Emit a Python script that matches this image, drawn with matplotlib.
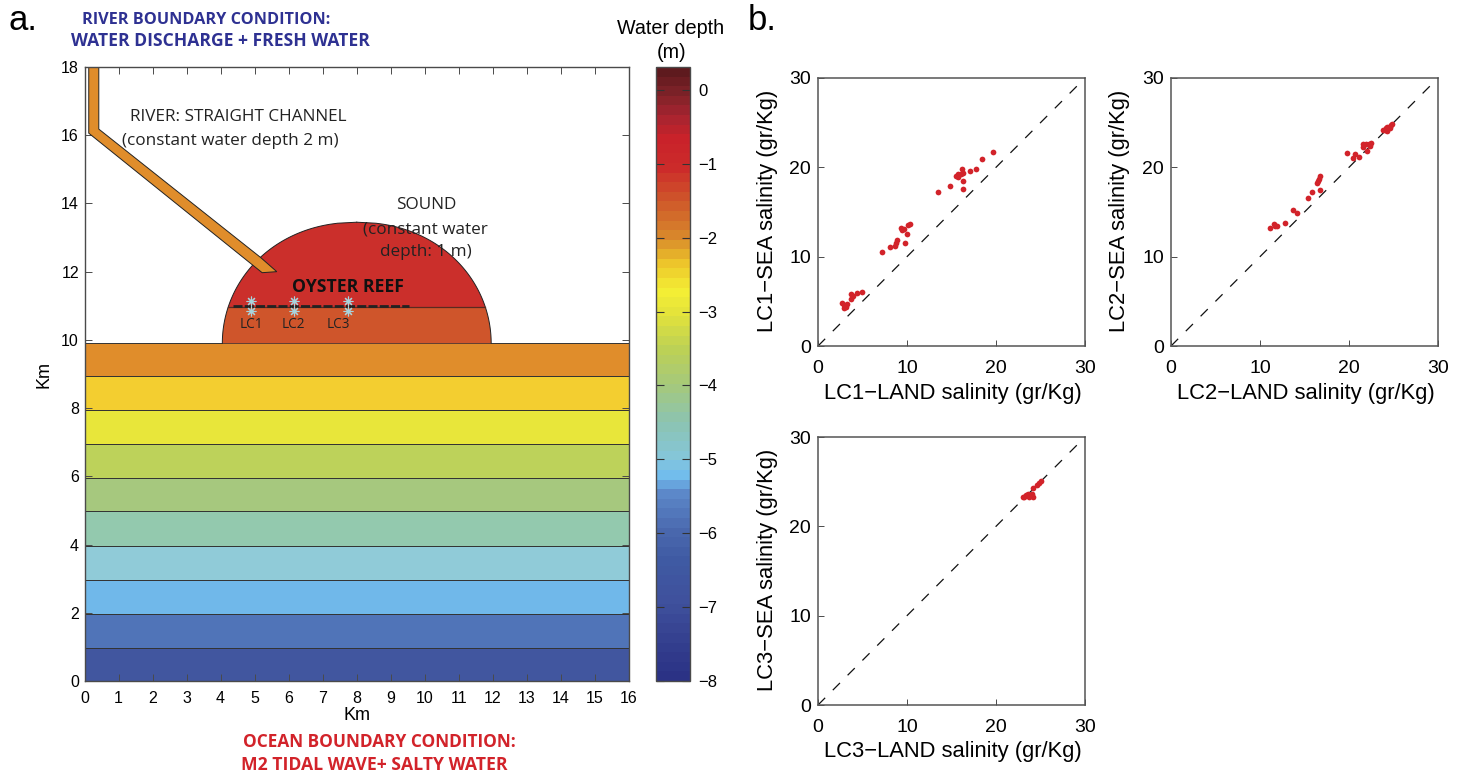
import numpy as np
import matplotlib
matplotlib.use("Agg")
import matplotlib.pyplot as plt
from matplotlib.colors import LinearSegmentedColormap, Normalize
from matplotlib.cm import ScalarMappable
from matplotlib.patches import Polygon

plt.rcParams['lines.scale_dashes'] = False
plt.rcParams['font.family'] = ['Liberation Sans', 'DejaVu Sans']
W, H = 1463, 774

# ---- data ----
band_edges = [0, 0.97, 1.97, 2.97, 3.97, 4.97, 5.95, 6.95, 7.95, 8.95, 9.9]
band_colors = ['#41569f', '#5074b8', '#70b8ea', '#90cbd8', '#93c9ae',
               '#a6c87e', '#bdd25a', '#e8e63a', '#f3ce30', '#e08d2b']
river_x = [0.125, 0.125, 5.22, 5.65, 5.17, 0.42, 0.42]
river_y = [18, 16.06, 11.97, 12.0, 12.42, 16.18, 18]
river_color = '#e08d2b'
sound_low_color = '#cf552b'
sound_up_color = '#cb2f2b'
station_x = [4.89, 6.15, 7.74]
station_y = [11.15, 10.84]
reef_x = [4.36, 9.53]
reef_y = [11.0, 11.0]

cbar_levels = [-8, -7.5, -7, -6.4, -6, -5.5, -5.25, -5, -4.5, -4, -3.5, -3, -2.7, -2.3, -2, -1.5, -1, -0.6, -0.3, 0, 0.31]
cbar_colors = ['#2b3285', '#34408f', '#3f509c', '#3f5aa3', '#4a68ae', '#5b87c8', '#70bcee', '#85c6da',
               '#8cc4b0', '#a5c87c', '#bdd155', '#e4e43a', '#f4ef35', '#ecc22a', '#d98c2b',
               '#cf5a2a', '#cc2a2a', '#c9222a', '#a62430', '#7f2228', '#5e1a1e']

lc1_land = [19.66, 18.46, 17.79, 17.04, 16.18, 16.29, 16.07, 15.69, 15.5, 15.77, 16.25, 14.87, 16.29, 13.45,
            10.34, 10.07, 9.33, 9.7, 9.48, 10.0, 8.88, 8.8, 8.69, 9.74, 8.13, 7.19,
            4.94, 4.34, 3.71, 3.97, 3.67, 2.66, 3.22, 2.96, 2.88, 3.11]
lc1_sea = [21.76, 20.98, 19.82, 19.56, 19.78, 19.34, 19.26, 19.26, 19.04, 18.96, 18.48, 17.92, 17.58, 17.25,
           13.7, 13.55, 13.21, 13.14, 12.96, 12.58, 11.83, 11.57, 11.16, 11.49, 11.09, 10.53,
           6.01, 5.97, 5.82, 5.63, 5.3, 4.78, 4.7, 4.55, 4.25, 4.4]
lc2_land = [11.16, 11.54, 11.69, 11.95, 12.85, 13.71, 14.12, 15.36, 15.88, 16.78, 16.4, 16.55, 16.67, 16.78,
            19.74, 20.45, 20.71, 21.09, 21.98, 21.53, 21.6, 21.91, 22.29, 22.47, 22.36,
            23.86, 24.16, 24.31, 24.46, 24.6, 24.75, 24.87, 24.31, 24.0]
lc2_sea = [13.21, 13.7, 13.47, 13.44, 13.74, 15.23, 14.86, 16.57, 17.28, 17.47, 18.29, 18.44, 18.7, 19.04,
           21.58, 21.02, 21.53, 21.17, 21.8, 22.28, 22.58, 22.58, 22.62, 22.77, 22.36,
           24.19, 24.37, 24.1, 24.56, 24.45, 24.75, 24.86, 24.5, 24.2]
lc3_land = [23.07, 23.37, 23.6, 23.74, 24.0, 24.2, 24.2, 24.64, 24.87, 25.02, 23.2]
lc3_sea = [23.33, 23.48, 23.59, 23.33, 23.59, 23.33, 24.26, 24.6, 24.82, 25.05, 23.25]
lim = [0, 30]
scatter_ticks = [0, 10, 20, 30]

# ---- helpers ----
fig = plt.figure(figsize=(W / 100, H / 100), dpi=100)

def add_ax(l, t, r, b):
    return fig.add_axes([l / W, 1 - b / H, (r - l) / W, (b - t) / H])

def T(x, y, s, **k):
    k.setdefault('ha', 'center')
    k.setdefault('va', 'center')
    fig.text(x / W, 1 - y / H, s, **k)

EDGE = '#4a4a4a'
SCH = ['Open Sans', 'DejaVu Sans']

# ---- panel a ----
ax = add_ax(84.5, 67, 629, 681)
ax.set_xlim(0, 16)
ax.set_ylim(0, 18)
for i, c in enumerate(band_colors):
    ax.fill_between([0, 16], band_edges[i], band_edges[i + 1], facecolor=c, edgecolor='#333333', lw=0.7, zorder=1)

split = 10.95
ys = np.unique(np.append(np.linspace(9.9, 13.45, 120), split))
half = 3.95 * np.sqrt(np.clip(1 - ((ys - 9.9) / 3.55) ** 2, 0, 1)) ** 0.95
low = ys <= split
up = ys >= split
ax.fill_betweenx(ys[low], 8 - half[low], 8 + half[low], facecolor=sound_low_color, edgecolor='none', zorder=2)
ax.fill_betweenx(ys[up], 8 - half[up], 8 + half[up], facecolor=sound_up_color, edgecolor='none', zorder=2)
ax.plot(8 - half, ys, color='#222222', lw=0.7, zorder=3)
ax.plot(8 + half, ys, color='#222222', lw=0.7, zorder=3)
m = np.argmin(np.abs(ys - split))
ax.plot([8 - half[m], 8 + half[m]], [split, split], color='#5a2a20', lw=0.9, zorder=3)
ax.add_patch(Polygon(np.column_stack([river_x, river_y]), closed=True, facecolor=river_color,
                     edgecolor='#222222', lw=0.7, zorder=4))
ax.plot(reef_x, reef_y, color='#222222', lw=2.0, linestyle=(0, (6.5, 1.6)), zorder=5)
for sy in station_y:
    ax.plot(station_x, [sy] * len(station_x), linestyle='none', marker=(8, 2, 0), ms=7, mew=0.8,
            color='#a8d3dc', zorder=6)

ax.set_xticks(range(0, 17))
ax.set_yticks(range(0, 19, 2))
ax.tick_params(direction='in', length=5, width=0.7, color=EDGE, top=True, right=True, labelsize=11.5, pad=7)
ax.tick_params(axis='y', pad=4)
for s in ax.spines.values():
    s.set_color(EDGE)
    s.set_linewidth(1.0)
    s.set_zorder(8)

# ---- colorbar ----
cax = add_ax(655.5, 67, 690, 681)
pos = [(v - cbar_levels[0]) / (cbar_levels[-1] - cbar_levels[0]) for v in cbar_levels]
cmap = LinearSegmentedColormap.from_list('depth', list(zip(pos, cbar_colors)), N=64)
cb = fig.colorbar(ScalarMappable(norm=Normalize(cbar_levels[0], cbar_levels[-1]), cmap=cmap), cax=cax,
                  ticks=list(range(-8, 1)))
cb.outline.set_edgecolor(EDGE)
cb.outline.set_linewidth(1.0)
cax.tick_params(which='both', direction='in', length=6, width=0.8, color='#333333', left=True, right=True,
                labelsize=12, pad=6)

# ---- panel b ----
panels = [
    (818, 78, 1085, 346, lc1_land, lc1_sea, 'LC1\u2212LAND salinity (gr/Kg)', 'LC1\u2212SEA salinity (gr/Kg)'),
    (1171, 78, 1438, 346, lc2_land, lc2_sea, 'LC2\u2212LAND salinity (gr/Kg)', 'LC2\u2212SEA salinity (gr/Kg)'),
    (818, 437, 1085, 705, lc3_land, lc3_sea, 'LC3\u2212LAND salinity (gr/Kg)', 'LC3\u2212SEA salinity (gr/Kg)'),
]
for l, t, r, b, xs, yv, xl, yl in panels:
    a = add_ax(l, t, r, b)
    a.plot(lim, lim, color='#111111', lw=0.9, linestyle=(0, (7.3, 7.8)), zorder=1)
    a.scatter(xs, yv, s=17, color='#d2232a', linewidths=0, zorder=2)
    a.set_xlim(lim)
    a.set_ylim(lim)
    a.set_xticks(scatter_ticks)
    a.set_yticks(scatter_ticks)
    a.tick_params(direction='in', length=4, width=0.7, color=EDGE, labelsize=14, pad=5)
    a.tick_params(axis='x', pad=10)
    for s in a.spines.values():
        s.set_color('#555555')
        s.set_linewidth(1.1)
    T((l + r) / 2 + 1, b + 47, xl, fontsize=15.8)
    T(l - 51, (t + b) / 2 - 1, yl, fontsize=15.8, rotation=90)

# ---- annotations ----
T(8, 21, 'a.', ha='left', fontsize=25)
T(748, 21, 'b.', ha='left', fontsize=25)
T(206, 20, 'RIVER BOUNDARY CONDITION:', family=SCH, weight='bold', color='#2e3192', fontsize=11.7)
T(220, 41, 'WATER DISCHARGE + FRESH WATER', family=SCH, weight='bold', color='#2e3192', fontsize=12.6)
T(379, 742, 'OCEAN BOUNDARY CONDITION:', family=SCH, weight='bold', color='#d2232a', fontsize=12.4)
T(374.5, 765, 'M2 TIDAL WAVE+ SALTY WATER', family=SCH, weight='bold', color='#d2232a', fontsize=12.7)
T(238, 117, 'RIVER: STRAIGHT CHANNEL', family=SCH, fontsize=12.3, color='#222222')
T(230, 141, '(constant water depth 2 m)', family=SCH, fontsize=12.3, color='#222222')
T(426, 205, 'SOUND', family=SCH, fontsize=12.3, color='#222222')
T(425, 229, '(constant water', family=SCH, fontsize=12.3, color='#222222')
T(426, 252, 'depth: 1 m)', family=SCH, fontsize=12.3, color='#222222')
T(348, 287, 'OYSTER REEF', family=SCH, weight='bold', fontsize=12.7, color='#111111')
T(251, 324, 'LC1', family=SCH, fontsize=9.8, color='#222222')
T(293, 324, 'LC2', family=SCH, fontsize=9.8, color='#222222')
T(338, 324, 'LC3', family=SCH, fontsize=9.8, color='#222222')
T(44, 375, 'Km', rotation=90, fontsize=13)
T(357, 716, 'Km', fontsize=13)
T(671, 29, 'Water depth', fontsize=14.2)
T(672, 52, '(m)', fontsize=14.2)

fig.savefig('out.png', dpi=100, facecolor='white')
